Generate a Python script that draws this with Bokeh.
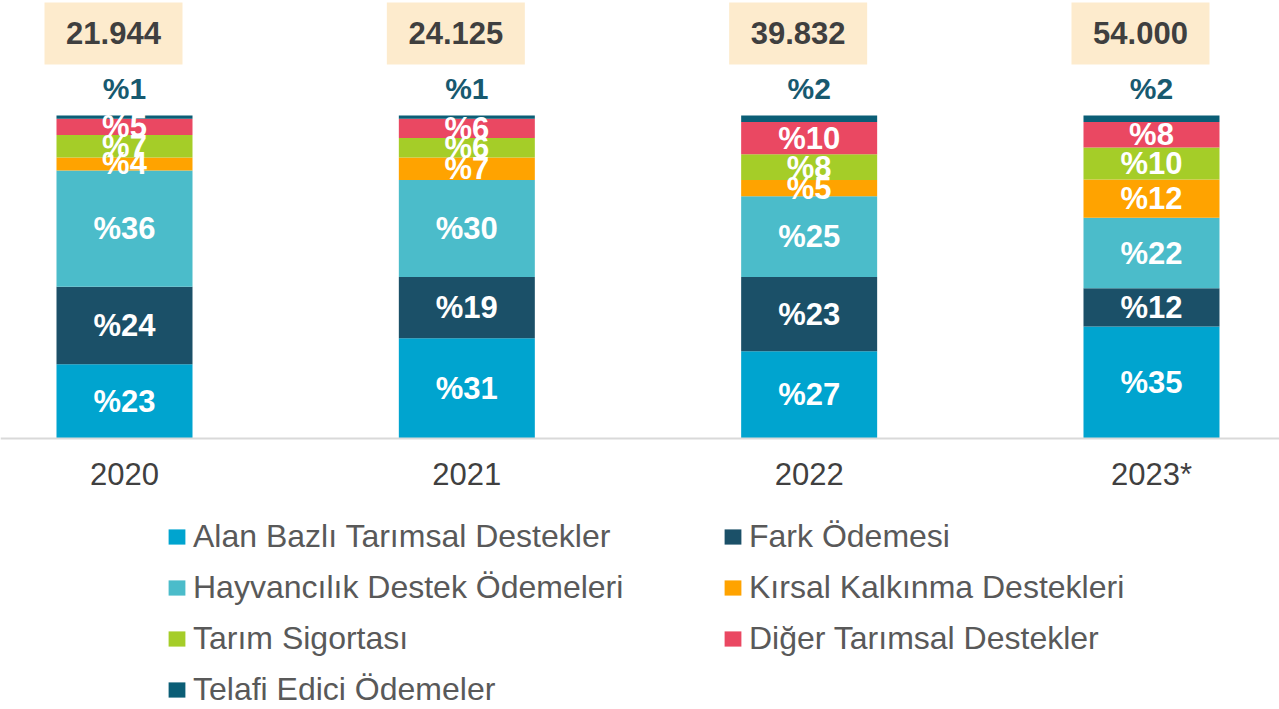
from bokeh.plotting import figure
from bokeh.models import Legend, LegendItem, FixedTicker, ColumnDataSource
from bokeh.core.properties import value
from bokeh.embed import file_html
from bokeh.resources import INLINE

# ---------------- data ----------------
years = ["2020", "2021", "2022", "2023*"]
totals = [21944, 24125, 39832, 54000]

series_names = [
    "Alan Bazlı Tarımsal Destekler",
    "Fark Ödemesi",
    "Hayvancılık Destek Ödemeleri",
    "Kırsal Kalkınma Destekleri",
    "Tarım Sigortası",
    "Diğer Tarımsal Destekler",
    "Telafi Edici Ödemeler",
]
alan = [23, 31, 27, 35]
fark = [24, 19, 23, 12]
hayvan = [36, 30, 25, 22]
kirsal = [4, 7, 5, 12]
tarim = [7, 6, 8, 10]
diger = [5, 6, 10, 8]
telafi = [1, 1, 2, 2]
series_values = [alan, fark, hayvan, kirsal, tarim, diger, telafi]

colors = ["#00a4cf", "#1b5068", "#4bbcca", "#ffa300", "#a5cd28", "#ea4862", "#0b5e76"]

# ---------------- layout constants ----------------
FONT = value("Liberation Sans")
PX_PER_X = 342.33
PX_PER_Y = 3.23
W, H = 1279, 709
AXIS_PX = 438
xs = list(range(len(years)))
x_start = -124 / PX_PER_X
x_end = (W - 124) / PX_PER_X
y_start = -(H - AXIS_PX) / PX_PER_Y
y_end = AXIS_PX / PX_PER_Y
BAR_W = 136 / PX_PER_X

p = figure(frame_width=W, frame_height=H,
           x_range=(x_start, x_end), y_range=(y_start, y_end),
           output_backend="svg", toolbar_location=None,
           y_axis_location=None, min_border=0)
p.outline_line_color = None
p.xgrid.visible = False
p.ygrid.visible = False
p.background_fill_color = "white"

# stacked bars (normalised to 100 per year)
sums = [sum(s[i] for s in series_values) for i in xs]
bottoms = [0.0] * len(xs)
renderers = []
lab_x, lab_y, lab_t = [], [], []
for name, vals, col in zip(series_names, series_values, colors):
    bot = list(bottoms)
    top = [bot[i] + vals[i] / sums[i] * 100 for i in xs]
    src = ColumnDataSource(dict(x=xs, bottom=bot, top=top))
    r = p.vbar(x="x", bottom="bottom", top="top", width=BAR_W, source=src,
               fill_color=col, line_color=None)
    renderers.append(r)
    if vals is not telafi:
        for i in xs:
            lab_x.append(xs[i])
            lab_y.append((bot[i] + top[i]) / 2)
            lab_t.append("%" + str(vals[i]))
    bottoms = top

p.text(x=lab_x, y=lab_y, text=lab_t, text_align="center", text_baseline="middle",
       text_font=FONT, text_font_style="bold", text_font_size="31px", text_color="white")

# top (Telafi) labels above bars
p.text(x=xs, y=[108.4] * len(xs), text=["%" + str(v) for v in telafi],
       text_align="center", text_baseline="middle", text_font=FONT,
       text_font_style="bold", text_font_size="30px", text_color="#17596f")

# totals boxes
off = 11 / PX_PER_X
box_w = 138 / PX_PER_X
bx = [x - off for x in xs]
p.quad(left=[x - box_w / 2 for x in bx], right=[x + box_w / 2 for x in bx],
       bottom=[115.8] * len(xs), top=[135.0] * len(xs),
       fill_color="#fdebcd", line_color=None)
p.text(x=bx, y=[125.4] * len(xs), text=[f"{t:,}".replace(",", ".") for t in totals],
       text_align="center", text_baseline="middle", text_font=FONT,
       text_font_style="bold", text_font_size="31px", text_color="#3f3f3f")

# x axis, fixed at y = 0 inside the frame
ax = p.xaxis[0]
ax.fixed_location = 0
ax.ticker = FixedTicker(ticks=xs)
ax.major_label_overrides = {i: y for i, y in zip(xs, years)}
ax.major_tick_line_color = None
ax.minor_tick_line_color = None
ax.axis_line_color = "#d9d9d9"
ax.axis_line_width = 2
ax.major_label_text_font = "Liberation Sans"
ax.major_label_text_font_size = "31px"
ax.major_label_text_color = "#404040"
ax.major_label_standoff = 12

# legend (below the bars, two columns)
LABEL_H, SPACING = 38, 13
GLYPH_W, STANDOFF = 21, 6
LEG_X = 166
leg_h = 4 * LABEL_H + 3 * SPACING
leg_top = 536 - LABEL_H / 2
items = [LegendItem(label=n, renderers=[r]) for n, r in zip(series_names, renderers)]
legend = Legend(items=items, orientation="horizontal", ncols=2,
                location=(LEG_X, H - (leg_top + leg_h)), margin=0, padding=0,
                spacing=SPACING, glyph_width=GLYPH_W, glyph_height=19,
                label_standoff=STANDOFF,
                label_width=722 - LEG_X - GLYPH_W - STANDOFF - SPACING,
                label_height=LABEL_H,
                label_text_font="Liberation Sans", label_text_font_size="32px",
                label_text_color="#595959", border_line_color=None,
                background_fill_alpha=0)
p.add_layout(legend, "center")

open("out.html", "w").write(file_html(p, INLINE))
